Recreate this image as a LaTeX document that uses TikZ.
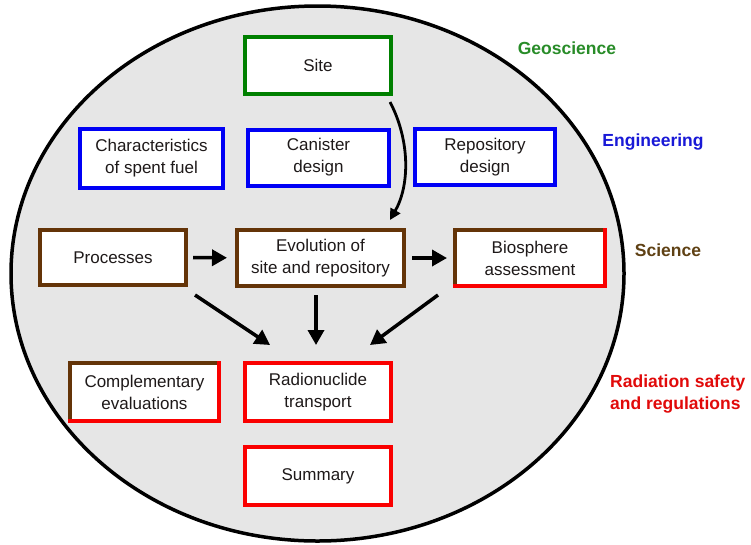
\documentclass[tikz,border=0pt]{standalone}
\usepackage{fontspec}
\setmainfont{Liberation Sans}
\usetikzlibrary{arrows.meta}
\definecolor{cgreen}{RGB}{0,128,0}
\definecolor{cblue}{RGB}{0,0,245}
\definecolor{cbrown}{RGB}{100,52,8}
\definecolor{cred}{RGB}{250,0,0}
\definecolor{lgreen}{RGB}{40,140,40}
\definecolor{lblue}{RGB}{25,25,215}
\definecolor{lbrown}{RGB}{95,65,20}
\definecolor{lred}{RGB}{225,10,10}
\definecolor{ellfill}{RGB}{230,230,230}
\definecolor{txt}{RGB}{30,25,25}
\begin{document}
\begin{tikzpicture}[x=1pt,y=-1pt,
  box/.style={line width=4pt, fill=white, inner sep=0pt, outer sep=0pt, align=center,
    font=\fontsize{17}{22}\selectfont, text=txt},
  sz/.style 2 args={minimum width=#1pt, minimum height=#2pt},
  arr/.style={line width=3.5pt, -{Triangle[length=15pt,width=16pt]}},
  lab/.style={font=\fontsize{17.5}{22}\selectfont\bfseries, align=left, inner sep=0pt}]
\useasboundingbox (0,0) rectangle (751,544);
\fill[white] (0,0) rectangle (751,544);
\draw[line width=3.5pt, fill=ellfill] (317.5,273.5) ellipse [x radius=306.5pt, y radius=267.5pt];

\node[box, draw=cgreen, sz={146}{57}] (site) at (318,65.5) {Site};
\node[box, draw=cblue, sz={143}{59}] (char) at (151.5,158.5) {Characteristics\\of spent fuel};
\node[box, draw=cblue, sz={141}{56}] (can) at (318.5,157.5) {Canister\\design};
\node[box, draw=cblue, sz={140}{56}] (rep) at (485,157) {Repository\\design};
\node[box, draw=cbrown, sz={146}{55}] (proc) at (113,257.5) {Processes};
\node[box, draw=cbrown, sz={167}{56}] (evo) at (320.5,258) {Evolution of\\site and repository};
\node[box, draw=cbrown, sz={150}{56}] (bio) at (530,258) {Biosphere\\assessment};
\node[box, draw=cbrown, sz={149}{58}] (comp) at (144.5,392) {Complementary\\evaluations};
\node[box, draw=cred, sz={146}{58}] (rad) at (318,392) {Radionuclide\\transport};
\node[box, draw=cred, sz={146}{58}] (sum) at (318,476) {Summary};

\draw[cred, line width=4pt, line cap=rect] (bio.north east) -- (bio.south east) -- (bio.south west);
\draw[cred, line width=4pt, line cap=rect] (comp.north east) -- (comp.south east) -- (comp.south west);

\node[lab, text=lgreen] (geo) at (567,48) {Geoscience};
\node[lab, text=lblue] (eng) at (653,142) {Engineering};
\node[lab, text=lbrown] (sci) at (668,250) {Science};
\node[lab, text=lred, anchor=west] (rads) at (610,394) {Radiation safety\\and regulations};

\draw[arr, shorten <=7pt, shorten >=10pt] (proc) -- (evo);
\draw[arr, shorten <=8pt, shorten >=8pt] (evo) -- (bio);
\draw[arr] ([shift={(9,10)}]proc.south east) -- ([shift={(25,-18)}]rad.north west);
\draw[arr] ([shift={(-4.5,9)}]evo.south) -- ([shift={(-2,-18)}]rad.north);
\draw[arr] ([shift={(-17,9)}]bio.south west) -- ([shift={(-21,-18)}]rad.north east);
\draw[line width=2.8pt, -{Triangle[length=11pt,width=11pt]}]
  ([shift={(-1,8)}]site.south east) .. controls (410,140) and (410,185) .. ([shift={(-14,-10)}]evo.north east);
\end{tikzpicture}
\end{document}
